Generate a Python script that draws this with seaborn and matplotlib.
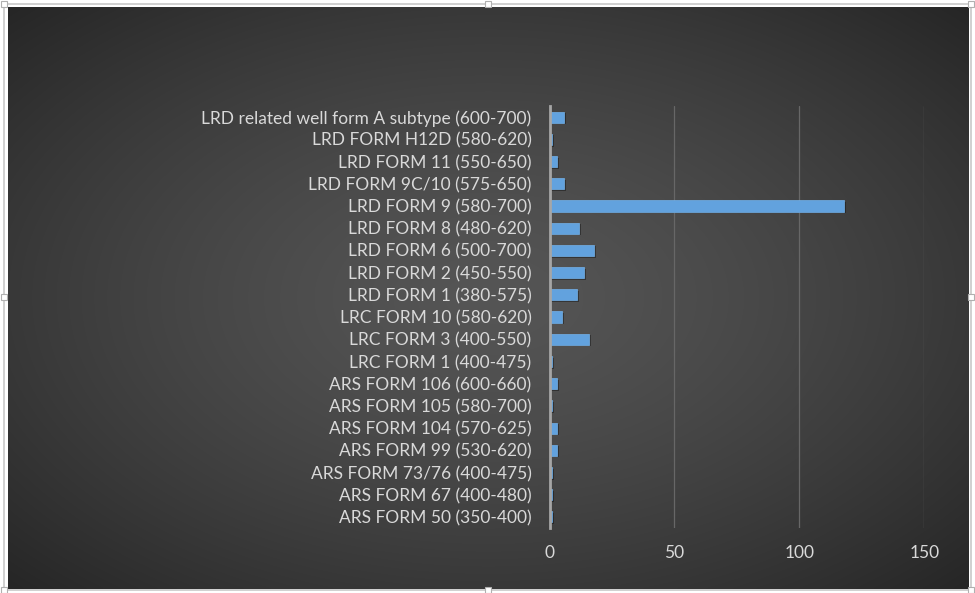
import numpy as np
import pandas as pd
import matplotlib
matplotlib.use("Agg")
import matplotlib.pyplot as plt
import matplotlib.patheffects as pe
from matplotlib.patches import Rectangle
import seaborn as sns

categories = [
    "LRD related well form A subtype (600-700)",
    "LRD FORM H12D (580-620)",
    "LRD FORM 11 (550-650)",
    "LRD FORM 9C/10 (575-650)",
    "LRD FORM 9 (580-700)",
    "LRD FORM 8 (480-620)",
    "LRD FORM 6 (500-700)",
    "LRD FORM 2 (450-550)",
    "LRD FORM 1 (380-575)",
    "LRC FORM 10 (580-620)",
    "LRC FORM 3 (400-550)",
    "LRC FORM 1 (400-475)",
    "ARS FORM 106 (600-660)",
    "ARS FORM 105 (580-700)",
    "ARS FORM 104 (570-625)",
    "ARS FORM 99 (530-620)",
    "ARS FORM 73/76 (400-475)",
    "ARS FORM 67 (400-480)",
    "ARS FORM 50 (350-400)",
]
values = [6, 1, 3, 6, 118, 12, 18, 14, 11, 5, 16, 1, 3, 1, 3, 3, 1, 1, 1]
xticks = [0, 50, 100, 150]

df = pd.DataFrame({"form": categories, "count": values})

sns.set_theme(style="white")
plt.rcParams["font.family"] = ["Lato", "DejaVu Sans"]

W, H = 975, 593
fig = plt.figure(figsize=(W / 100, H / 100), dpi=100)
fig.patch.set_facecolor("white")

# background panel with radial gradient
x0, y0, x1, y1 = 8, 7, 969, 589
bg = fig.add_axes([x0 / W, 1 - y1 / H, (x1 - x0) / W, (y1 - y0) / H])
nx, ny = 400, 250
gx, gy = np.meshgrid(np.linspace(-1, 1, nx), np.linspace(-1, 1, ny))
r = np.sqrt(gx ** 2 + gy ** 2) / np.sqrt(2)
c_in = np.array([0x55, 0x55, 0x55]) / 255
c_out = np.array([0x26, 0x26, 0x26]) / 255
t = np.clip(r, 0, 1)[..., None] ** 1.4
img = c_in * (1 - t) + c_out * t
bg.imshow(img, aspect="auto", extent=[0, 1, 0, 1], interpolation="bilinear")
bg.set_axis_off()

# frame with handles
frame = fig.add_axes([0, 0, 1, 1], zorder=5)
frame.set_xlim(0, W)
frame.set_ylim(H, 0)
frame.set_axis_off()
frame.patch.set_alpha(0)
frame.add_patch(Rectangle((4, 4), 967, 586, fill=False, ec="#c8c8c8", lw=1.2))
for hx in (4, 487.5, 971):
    for hy in (4, 297, 590):
        if hx == 487.5 and hy == 297:
            continue
        frame.add_patch(Rectangle((hx - 3, hy - 3), 6, 6, fc="white", ec="#b0b0b0", lw=0.8))

# main axes
left, right, top, bottom = 549.5, 924.3, 106, 528
ax = fig.add_axes([left / W, 1 - bottom / H, (right - left) / W, (bottom - top) / H], zorder=3)
ax.patch.set_alpha(0)

sns.barplot(data=df, x="count", y="form", orient="h", color="#62A2DE",
            width=0.5, saturation=1, ax=ax, zorder=3)
for p in ax.patches:
    p.set_path_effects([pe.SimplePatchShadow(offset=(1.2, -1.2), shadow_rgbFace="black", alpha=0.35),
                        pe.Normal()])
    p.set_edgecolor("#74b2ea")
    p.set_linewidth(0.5)

ax.set_xlim(0, 150)
ax.set_xticks(xticks)
ax.set_xlabel("")
ax.set_ylabel("")
ax.grid(axis="x", color="#676767", lw=0.9)
ax.set_axisbelow(True)
for s in ["top", "right", "bottom"]:
    ax.spines[s].set_visible(False)
ax.spines["left"].set_color("#a6a6a6")
ax.spines["left"].set_linewidth(2)
ax.spines["left"].set_zorder(4)
ax.tick_params(axis="both", length=0, colors="#d9d9d9", labelsize=12.5)
ax.tick_params(axis="y", pad=13)
ax.tick_params(axis="x", pad=12)

fig.savefig("out.png", dpi=100, facecolor="white")
